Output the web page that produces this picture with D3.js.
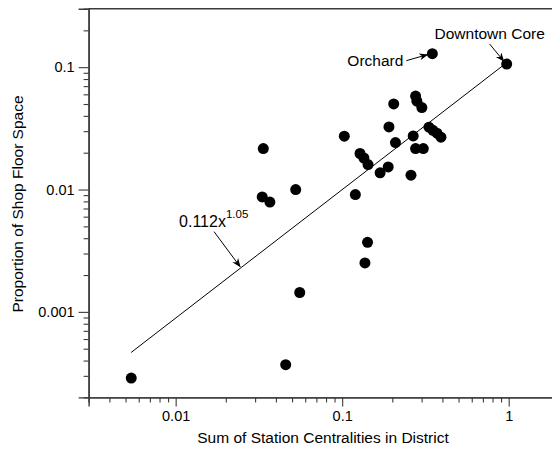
<!DOCTYPE html>
<html>
<head>
<meta charset="utf-8">
<script src="https://cdn.jsdelivr.net/npm/d3@7/dist/d3.min.js"></script>
<style>
  html, body { margin: 0; padding: 0; background: #fff; }
  svg { display: block; }
  text { font-family: "Liberation Sans", Arial, Helvetica, sans-serif; fill: #000; }
</style>
</head>
<body>
<svg id="chart" width="552" height="458"></svg>
<script>
// ---- data ----
const centrality = [0.348, 0.973, 0.276, 0.281, 0.301, 0.204, 0.191, 0.103, 0.267,
  0.332, 0.351, 0.371, 0.392, 0.209, 0.276, 0.307, 0.128, 0.135, 0.143, 0.169,
  0.189, 0.259, 0.0336, 0.0526, 0.0331, 0.0368, 0.120, 0.142, 0.137, 0.0556,
  0.0458, 0.00541];
const floorSpace = [0.129, 0.106, 0.058, 0.0527, 0.0468, 0.0501, 0.0325, 0.0273, 0.0274,
  0.0323, 0.0305, 0.0289, 0.0268, 0.0242, 0.0216, 0.0216, 0.0197, 0.0181, 0.0160, 0.0137,
  0.0153, 0.0131, 0.0216, 0.0100, 0.0087, 0.0079, 0.0091, 0.0037, 0.00251, 0.00144,
  0.00037, 0.000288];
const fitCoef = 0.112, fitExp = 1.05;
const fitXRange = [0.0054, 0.965];
const xMajorTicks = [0.01, 0.1, 1];
const xMinorTicks = [0.004,0.005,0.006,0.007,0.008,0.009,0.02,0.03,0.04,0.05,0.06,0.07,0.08,0.09,0.2,0.3,0.4,0.5,0.6,0.7,0.8,0.9,2];
const yMajorTicks = [0.001, 0.01, 0.1];
const yMinorTicks = [0.0003,0.0004,0.0005,0.0006,0.0007,0.0008,0.0009,0.002,0.003,0.004,0.005,0.006,0.007,0.008,0.009,0.02,0.03,0.04,0.05,0.06,0.07,0.08,0.09,0.2];
const tickLabel = {0.001: "0.001", 0.01: "0.01", 0.1: "0.1", 1: "1"};
const xTitle = "Sum of Station Centralities in District";
const yTitle = "Proportion of Shop Floor Space";

// ---- scales ----
const x = d3.scaleLog().domain([0.003, 2]).range([88.6, 558.8]);
const y = d3.scaleLog().domain([0.0002, 0.3]).range([397.4, 8.8]);

const svg = d3.select("#chart");
const axisColor = "#3a3a3a";

// arrow marker
const defs = svg.append("defs");
defs.append("marker").attr("id", "arr")
  .attr("viewBox", "0 0 10 10").attr("refX", 9).attr("refY", 5)
  .attr("markerWidth", 9).attr("markerHeight", 9).attr("markerUnits", "userSpaceOnUse")
  .attr("orient", "auto")
  .append("path").attr("d", "M0,1 L10,5 L0,9 L3,5 Z").attr("fill", "#000");

// frame top line
svg.append("line").attr("x1", x.range()[0]).attr("x2", x.range()[1])
  .attr("y1", y.range()[1]).attr("y2", y.range()[1])
  .attr("stroke", axisColor).attr("stroke-width", 1.4);

// x axis
const gx = svg.append("g").attr("transform", `translate(0,${y.range()[0]})`);
gx.append("g").call(d3.axisBottom(x).tickValues(xMinorTicks).tickSize(5).tickFormat(""));
gx.append("g").call(d3.axisBottom(x).tickValues(xMajorTicks).tickSize(9).tickPadding(4)
  .tickFormat(d => tickLabel[d]));
// y axis
const gy = svg.append("g").attr("transform", `translate(${x.range()[0]},0)`);
gy.append("g").call(d3.axisLeft(y).tickValues(yMinorTicks).tickSize(5).tickFormat(""));
gy.append("g").call(d3.axisLeft(y).tickValues(yMajorTicks).tickSize(10).tickPadding(4)
  .tickFormat(d => tickLabel[d]));

svg.selectAll(".domain").attr("stroke", axisColor).attr("stroke-width", 1.4);
svg.selectAll(".tick line").attr("stroke", axisColor).attr("stroke-width", 1.1);
svg.selectAll(".tick text").attr("font-size", 14.5).attr("font-family", "Liberation Sans, Arial, sans-serif").attr("fill", "#000");

// titles
svg.append("text").attr("x", 323).attr("y", 443).attr("text-anchor", "middle")
  .attr("font-size", 15.5).text(xTitle);
svg.append("text").attr("transform", "translate(23,204) rotate(-90)")
  .attr("text-anchor", "middle").attr("font-size", 15.5).text(yTitle);

// fit line
const fitPts = fitXRange.map(v => [v, fitCoef * Math.pow(v, fitExp)]);
svg.append("path").datum(fitPts)
  .attr("d", d3.line().x(d => x(d[0])).y(d => y(d[1])))
  .attr("fill", "none").attr("stroke", "#000").attr("stroke-width", 1);

// points
svg.append("g").selectAll("circle").data(centrality.map((c, i) => [c, floorSpace[i]]))
  .join("circle").attr("cx", d => x(d[0])).attr("cy", d => y(d[1])).attr("r", 5.5)
  .attr("fill", "#000");

// annotations
// Orchard
const oX = x(centrality[0]), oY = y(floorSpace[0]);
svg.append("text").attr("x", oX - 29).attr("y", oY + 12).attr("text-anchor", "end")
  .attr("font-size", 15.5).text("Orchard");
svg.append("line").attr("x1", oX - 26).attr("y1", oY + 7).attr("x2", oX - 5).attr("y2", oY + 1)
  .attr("stroke", "#000").attr("stroke-width", 1).attr("marker-end", "url(#arr)");
// Downtown Core
const dX = x(centrality[1]), dY = y(floorSpace[1]);
svg.append("text").attr("x", dX - 17).attr("y", dY - 25).attr("text-anchor", "middle")
  .attr("font-size", 15.5).text("Downtown Core");
svg.append("line").attr("x1", dX - 17).attr("y1", dY - 20).attr("x2", dX - 3).attr("y2", dY - 3)
  .attr("stroke", "#000").attr("stroke-width", 1).attr("marker-end", "url(#arr)");
// fit label
const fX = 0.0247;
const tX = x(fX), tY = y(fitCoef * Math.pow(fX, fitExp));
const lab = svg.append("text").attr("x", tX - 62).attr("y", tY - 41).attr("font-size", 16);
lab.append("tspan").text(`${fitCoef}x`);
lab.append("tspan").attr("dy", -8.5).attr("font-size", 11.5).text(`${fitExp}`);
svg.append("line").attr("x1", tX - 27).attr("y1", tY - 36).attr("x2", tX - 1).attr("y2", tY - 1)
  .attr("stroke", "#000").attr("stroke-width", 1).attr("marker-end", "url(#arr)");
</script>
</body>
</html>
